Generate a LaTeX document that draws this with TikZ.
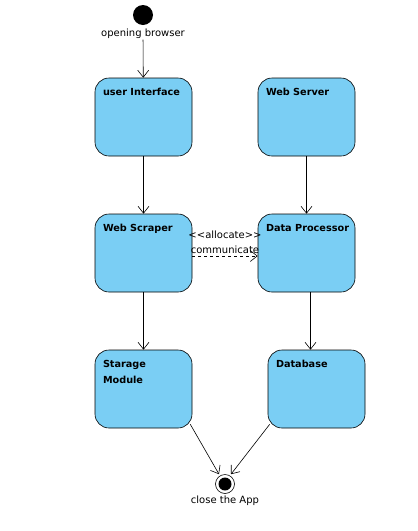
\documentclass[tikz,border=0pt]{standalone}
\usepackage{fontspec}
\setmainfont{DejaVu Sans}
\usetikzlibrary{arrows.meta, positioning}
\definecolor{stateblue}{RGB}{122,206,244}

\begin{document}
\begin{tikzpicture}[> = {Straight Barb[length=7pt,width=11pt]}, x=1pt, y=-1pt,
    state/.style = {draw, fill=stateblue, rounded corners=14pt,
        minimum width=97pt, minimum height=78pt, inner sep=0pt},
    title/.style = {anchor=north west, inner sep=0pt, xshift=8pt, yshift=-10pt,
        align=left, font=\fontsize{9.7}{16}\selectfont\bfseries},
    txt/.style = {inner sep=1pt, font=\fontsize{10}{15}\selectfont},
    line width=0.6pt]
    \useasboundingbox (0, 0) rectangle (418, 531);
    % Start and end
    \node [circle, fill=black, minimum size=20pt, inner sep=0pt] (start) at (143, 15) {};
    \node [txt, below=2pt of start] (startlbl) {opening browser};
    \node [circle, draw, fill=white, minimum size=19pt, inner sep=0pt] (end) at (225, 484) {};
    \fill (end.center) circle (6.5);
    \node [txt, below=1pt of end] (endlbl) {close the App};
    % States
    \node [state, label={[title]north west:user Interface}] (ui) at (143.5, 117) {};
    \node [state, label={[title]north west:Web Server}] (server) at (306.5, 117) {};
    \node [state, label={[title]north west:Web Scraper}] (scraper) at (143.5, 253) {};
    \node [state, label={[title]north west:Data Processor}] (proc) at (306.5, 253) {};
    \node [state, label={[title]north west:Starage\\Module}] (store) at (143.5, 389) {};
    \node [state, label={[title]north west:Database}] (db) at (316.5, 389) {};
    \coordinate (storeout) at ([xshift=-2pt, yshift=4pt]store.south east);
    \coordinate (dbout) at ([xshift=2pt, yshift=4pt]db.south west);
    % Transitions
    \draw [->] (startlbl) -- (ui);
    \draw [->] (ui) -- (scraper);
    \draw [->] (server) -- (proc);
    \draw [->] (scraper) -- (store);
    \draw [->] ([xshift=4pt]proc.south) -- ([xshift=-6pt]db.north);
    \draw [->, dashed] ([yshift=-3pt]scraper.east) -- ([yshift=-3pt]proc.west)
        node [txt, midway, above=1pt, align=center] {{<}{<}allocate{>}{>}\\communicate};
    \draw [->] (storeout) -- ([xshift=-6pt]end.north);
    \draw [->] (dbout) -- ([xshift=6pt]end.north);

\end{tikzpicture}
\end{document}
